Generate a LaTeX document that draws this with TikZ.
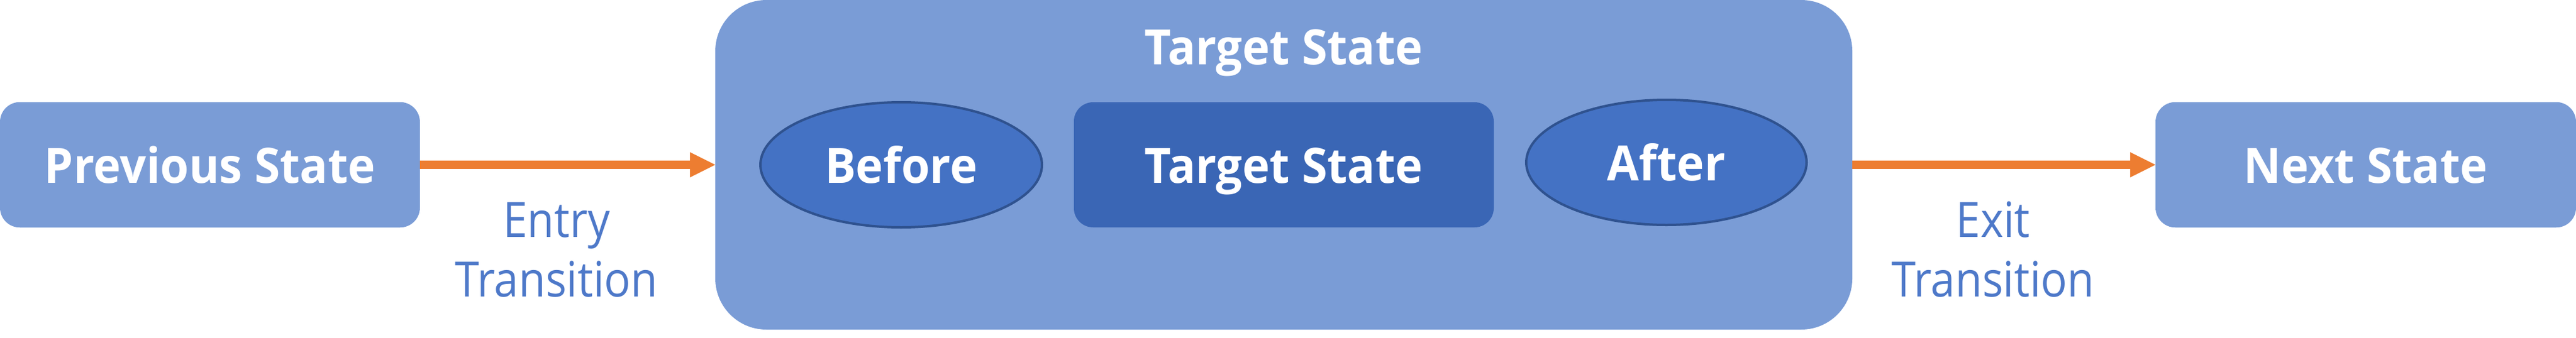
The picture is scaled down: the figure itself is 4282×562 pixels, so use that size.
\documentclass[tikz,border=0pt]{standalone}
\usepackage{fontspec}
\setmainfont{Open Sans}
\newfontfamily\boxfont[FakeStretch=0.95]{Open Sans}
\newfontfamily\lblfont[FakeStretch=0.9]{Open Sans}
\usetikzlibrary{arrows.meta,shapes.geometric}
\definecolor{outerc}{HTML}{7A9CD6}
\definecolor{ellc}{HTML}{4472C4}
\definecolor{ellb}{HTML}{2F528F}
\definecolor{innerc}{HTML}{3A66B5}
\definecolor{txtc}{HTML}{4E79C9}
\definecolor{arrc}{HTML}{ED7D31}
\tikzset{
  wtext/.style={text=white, font=\boxfont\bfseries\fontsize{81}{90}\selectfont, text height=60pt, text depth=0pt, inner sep=0pt},
  statebox/.style={wtext, fill=outerc, rounded corners=33pt},
  innerbox/.style={wtext, fill=innerc, rounded corners=32pt},
  phase/.style={wtext, ellipse, fill=ellc, draw=ellb, line width=4pt},
  lbl/.style={text=txtc, font=\lblfont\fontsize{81}{99}\selectfont, align=center, inner sep=0pt},
  trans/.style={draw=arrc, line width=14pt, -{Triangle[length=42pt,width=42pt,line width=0pt]}}
}
\begin{document}
\begin{tikzpicture}[x=1pt,y=-1pt]
\useasboundingbox (0,0) rectangle (4282,562);
\node[statebox, minimum width=1890pt, minimum height=548pt, rounded corners=85pt] (outer) at (2134,274) {};
\node[wtext] (title) at (2134,77.5) {Target State};
\node[statebox, minimum width=698pt, minimum height=208.5pt] (prev) at (349,274) {Previous State};
\node[statebox, minimum width=699pt, minimum height=208.5pt] (next) at (3932.5,274) {Next State};
\node[innerbox, minimum width=698pt, minimum height=208pt] (target) at (2134,274) {Target State};
\node[phase, minimum width=468pt, minimum height=208pt] (before) at (1498,274) {Before};
\node[phase, minimum width=466pt, minimum height=208pt] (after) at (2770,270) {After};
\draw[trans] (prev.east) -- (outer.west |- prev.east);
\draw[trans] (outer.east |- next.west) -- (next.west);
\node[lbl, anchor=base] (entry) at (925,493) {Entry\\Transition};
\node[lbl, anchor=base] (exit) at (3313,493) {Exit\\Transition};
\end{tikzpicture}
\end{document}
